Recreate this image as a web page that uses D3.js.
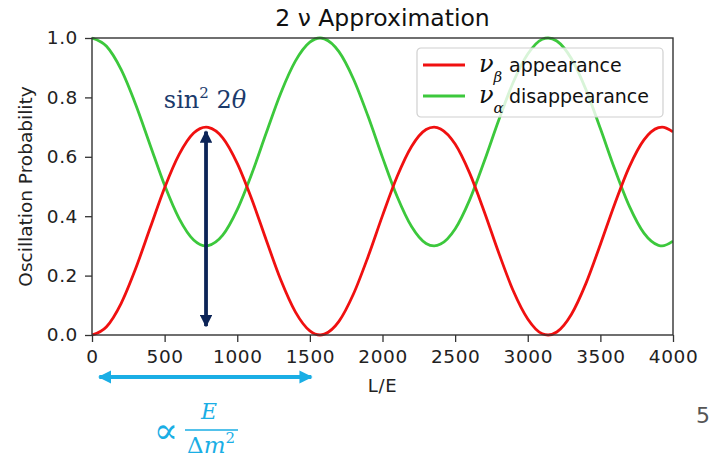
<!DOCTYPE html>
<html>
<head>
<meta charset="utf-8">
<script src="https://cdn.jsdelivr.net/npm/d3@7"></script>
<style>
  body { margin: 0; background: #fff; }
  svg { font-family: "DejaVu Sans", sans-serif; }
</style>
</head>
<body>
<div id="chart"></div>
<script>
// values
const lOverE = [0, 100, 200, 300, 400, 500, 600, 700, 785, 800, 900, 1000, 1100, 1200, 1300, 1400, 1500, 1570,
  1600, 1700, 1800, 1900, 2000, 2100, 2200, 2300, 2355, 2400, 2500, 2600, 2700, 2800, 2900, 3000, 3100, 3140,
  3200, 3300, 3400, 3500, 3600, 3700, 3800, 3900, 3925, 4000];
const appearance = [0, 0.028, 0.106, 0.223, 0.360, 0.496, 0.608, 0.680, 0.70, 0.699, 0.664, 0.578, 0.457, 0.319, 0.185, 0.078, 0.014, 0,
  0.003, 0.046, 0.138, 0.263, 0.402, 0.533, 0.635, 0.692, 0.70, 0.694, 0.643, 0.545, 0.416, 0.277, 0.149, 0.054, 0.004, 0,
  0.010, 0.069, 0.173, 0.305, 0.443, 0.567, 0.657, 0.698, 0.70, 0.684];
const disappearance = [1.0, 0.972, 0.894, 0.777, 0.640, 0.504, 0.392, 0.320, 0.30, 0.301, 0.336, 0.422, 0.543, 0.681, 0.815, 0.922, 0.986, 1.0,
  0.997, 0.954, 0.862, 0.737, 0.598, 0.467, 0.365, 0.308, 0.30, 0.306, 0.357, 0.455, 0.584, 0.723, 0.851, 0.946, 0.996, 1.0,
  0.990, 0.931, 0.827, 0.695, 0.557, 0.433, 0.343, 0.302, 0.30, 0.316];
const xTicks = [0, 500, 1000, 1500, 2000, 2500, 3000, 3500, 4000];
const yTicks = [0.0, 0.2, 0.4, 0.6, 0.8, 1.0];
const arrowPeak = 785;     // where the amplitude arrow sits
const periodSpan = [50, 1510]; // horizontal arrow ends, in L/E

const width = 712, height = 459;
const margin = {top: 38, right: 39, bottom: 124, left: 92};
const serif = '"DejaVu Serif", "Liberation Serif", serif';

const svg = d3.select('#chart').append('svg')
  .attr('width', width)
  .attr('height', height);

const x = d3.scaleLinear().domain([0, 4000]).range([margin.left, width - margin.right]);
const y = d3.scaleLinear().domain([0, 1]).range([height - margin.bottom, margin.top]);

const defs = svg.append('defs');
defs.append('clipPath').attr('id', 'clip')
  .append('rect')
  .attr('x', margin.left).attr('y', margin.top - 2)
  .attr('width', x(4000) - x(0)).attr('height', y(0) - y(1) + 4);

function marker(id, color) {
  defs.append('marker')
    .attr('id', id)
    .attr('viewBox', '0 0 10 10')
    .attr('refX', 9).attr('refY', 5)
    .attr('markerWidth', 3.3).attr('markerHeight', 3.3)
    .attr('markerUnits', 'strokeWidth')
    .attr('orient', 'auto-start-reverse')
    .append('path')
    .attr('d', 'M0,0 L10,5 L0,10 Z')
    .attr('fill', color);
}
marker('navyHead', '#0c2457');
marker('cyanHead', '#1aaee5');

const line = (vals) => d3.line()
  .x((d, i) => x(lOverE[i]))
  .y(d => y(d))
  .curve(d3.curveMonotoneX)(vals);

const plot = svg.append('g').attr('clip-path', 'url(#clip)');
plot.append('path').attr('d', line(disappearance))
  .attr('fill', 'none').attr('stroke', '#3cc83c').attr('stroke-width', 2.8);
plot.append('path').attr('d', line(appearance))
  .attr('fill', 'none').attr('stroke', '#f01010').attr('stroke-width', 2.8);

// axes
const xAxis = svg.append('g')
  .attr('transform', `translate(0, ${y(0)})`)
  .call(d3.axisBottom(x).tickValues(xTicks).tickFormat(d3.format('d')).tickSize(7).tickPadding(8).tickSizeOuter(0));
const yAxis = svg.append('g')
  .attr('transform', `translate(${x(0)}, 0)`)
  .call(d3.axisLeft(y).tickValues(yTicks).tickFormat(d3.format('.1f')).tickSize(7).tickPadding(7).tickSizeOuter(0));
[xAxis, yAxis].forEach(a => {
  a.attr('font-family', null).attr('font-size', null);
  a.selectAll('text').style('font-size', '18.5px').style('letter-spacing', '0.6px').attr('fill', '#222');
  a.selectAll('line').attr('stroke', '#333').attr('stroke-width', 1.3);
  a.select('.domain').remove();
});

svg.append('rect')
  .attr('x', x(0)).attr('y', y(1))
  .attr('width', x(4000) - x(0)).attr('height', y(0) - y(1))
  .attr('fill', 'none').attr('stroke', '#333').attr('stroke-width', 1.4);

// title and labels
svg.append('text')
  .attr('x', (x(0) + x(4000)) / 2).attr('y', 26)
  .attr('text-anchor', 'middle')
  .style('font-size', '23.5px').attr('fill', '#111')
  .text('2 ν Approximation');

svg.append('text')
  .attr('x', (x(0) + x(4000)) / 2).attr('y', 392)
  .attr('text-anchor', 'middle')
  .style('font-size', '18px').style('letter-spacing', '0.6px').attr('fill', '#222')
  .text('L/E');

svg.append('text')
  .attr('transform', `translate(32, ${(y(0) + y(1)) / 2}) rotate(-90)`)
  .attr('text-anchor', 'middle')
  .style('font-size', '18.5px').attr('fill', '#222')
  .text('Oscillation Probability');

// legend
const legend = svg.append('g').attr('transform', 'translate(417, 48)');
legend.append('rect')
  .attr('width', 246).attr('height', 69).attr('rx', 4)
  .attr('fill', 'white').attr('fill-opacity', 0.8)
  .attr('stroke', '#d0d0d0').attr('stroke-width', 1.2);
const legendItems = [
  {sub: 'β', label: 'appearance', color: '#f01010'},
  {sub: 'α', label: 'disappearance', color: '#3cc83c'}
];
legendItems.forEach((d, i) => {
  const g = legend.append('g').attr('transform', `translate(0, ${17 + i * 31})`);
  g.append('line').attr('x1', 6).attr('x2', 48)
    .attr('stroke', d.color).attr('stroke-width', 2.8);
  const t = g.append('text').attr('y', 7).attr('fill', '#111');
  t.append('tspan').attr('x', 62).style('font-family', serif).style('font-style', 'italic')
    .style('font-size', '24px').text('ν');
  t.append('tspan').attr('dy', 10).style('font-family', serif).style('font-style', 'italic')
    .style('font-size', '15px').text(d.sub);
  t.append('tspan').attr('x', 92).attr('y', 7).style('font-size', '19px').text(d.label);
});

// amplitude arrow
svg.append('line')
  .attr('x1', x(arrowPeak)).attr('x2', x(arrowPeak))
  .attr('y1', y(0.03)).attr('y2', y(0.685))
  .attr('stroke', '#0c2457').attr('stroke-width', 3.8)
  .attr('marker-start', 'url(#navyHead)').attr('marker-end', 'url(#navyHead)');

const sinLabel = svg.append('text')
  .attr('x', x(arrowPeak) - 1).attr('y', 108)
  .attr('text-anchor', 'middle')
  .style('font-family', serif)
  .style('font-size', '24px').attr('fill', '#1b3a6b');
sinLabel.append('tspan').text('sin');
sinLabel.append('tspan').attr('dy', -10).style('font-size', '15px').text('2');
sinLabel.append('tspan').attr('dy', 10).text(' 2');
sinLabel.append('tspan').style('font-style', 'italic').text('θ');

// period arrow
const yArrow = 377;
svg.append('line')
  .attr('x1', x(periodSpan[0])).attr('x2', x(periodSpan[1]))
  .attr('y1', yArrow).attr('y2', yArrow)
  .attr('stroke', '#1aaee5').attr('stroke-width', 4)
  .attr('marker-start', 'url(#cyanHead)').attr('marker-end', 'url(#cyanHead)');

const prop = svg.append('g').attr('fill', '#1aaee5');
prop.append('text').attr('x', 166).attr('y', 443).attr('text-anchor', 'middle')
  .style('font-family', serif).style('font-size', '36px').text('∝');
prop.append('text').attr('x', 209).attr('y', 419).attr('text-anchor', 'middle')
  .style('font-family', serif).style('font-size', '22px').style('font-style', 'italic').text('E');
prop.append('line').attr('x1', 185).attr('x2', 238).attr('y1', 430).attr('y2', 430)
  .attr('stroke', '#1aaee5').attr('stroke-width', 1.6);
const dm = prop.append('text').attr('x', 211).attr('y', 453).attr('text-anchor', 'middle')
  .style('font-family', serif).style('font-size', '23px');
dm.append('tspan').text('Δ');
dm.append('tspan').style('font-style', 'italic').text('m');
dm.append('tspan').attr('dy', -10).style('font-size', '15px').text('2');

// slide number
svg.append('text')
  .attr('x', 703).attr('y', 423).attr('text-anchor', 'middle')
  .style('font-size', '22px').attr('fill', '#555')
  .text('5');
</script>
</body>
</html>
